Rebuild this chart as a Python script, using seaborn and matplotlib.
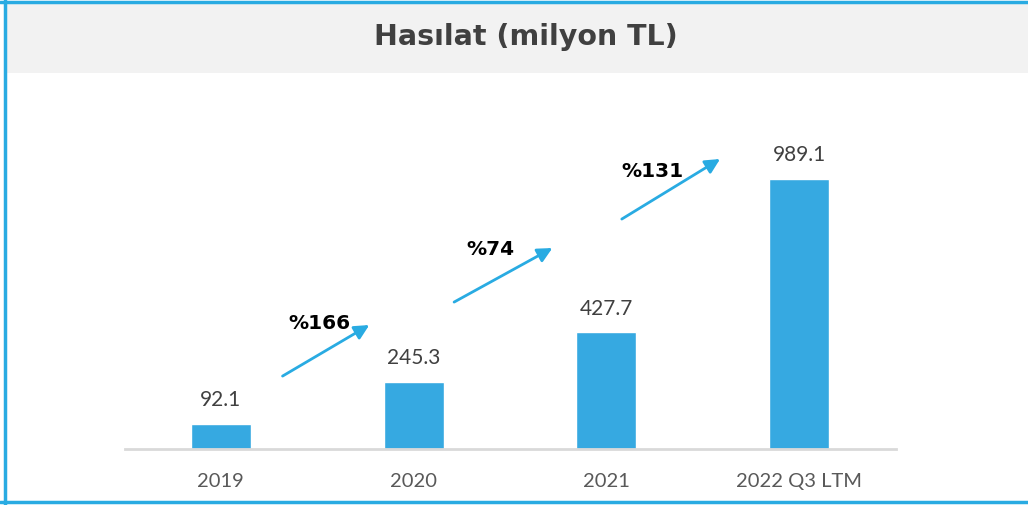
import matplotlib.pyplot as plt
import seaborn as sns
import pandas as pd
from matplotlib.patches import Rectangle
from matplotlib.lines import Line2D

years = ['2019', '2020', '2021', '2022 Q3 LTM']
revenue = [92.1, 245.3, 427.7, 989.1]
growth = ['%166', '%74', '%131']

df = pd.DataFrame({'year': years, 'revenue': revenue})

# arrow geometry (data units)
arrow_start = [(0.32, 267), (1.21, 538), (2.08, 842)]
arrow_end = [(0.77, 454), (1.72, 736), (2.59, 1062)]
label_pos = [(0.51, 461), (1.40, 729), (2.24, 1018)]

sns.set_style('white')
plt.rcParams['font.family'] = ['Lato', 'DejaVu Sans']

fig = plt.figure(figsize=(10.28, 5.05), dpi=100)

# title band + frame
fig.patches.append(Rectangle((7 / 1028, 1 - 73 / 505), 1, 70 / 505, transform=fig.transFigure,
                             facecolor='#F2F2F2', edgecolor='none', zorder=0))
blue = '#29ABE2'
fig.lines.append(Line2D([5 / 1028, 5 / 1028], [0, 1], transform=fig.transFigure, color=blue, lw=2.5))
fig.lines.append(Line2D([0, 1], [1 - 2 / 505, 1 - 2 / 505], transform=fig.transFigure, color=blue, lw=2.5))
fig.lines.append(Line2D([0, 1], [3 / 505, 3 / 505], transform=fig.transFigure, color=blue, lw=2.5))
fig.text(0.512, 1 - 37 / 505, 'Hasılat (milyon TL)', ha='center', va='center',
         fontsize=20.5, fontweight='bold', color='#404040', family=['DejaVu Sans'])

ax = fig.add_axes([124.5 / 1028, 56 / 505, 771 / 1028, 349 / 505])
sns.barplot(data=df, x='year', y='revenue', color='#36A9E1', width=0.31, saturation=1, ax=ax)
ax.set_xlim(-0.5, 3.5)
ax.set_ylim(0, 1278)
ax.set_xlabel('')
ax.set_ylabel('')
ax.set_yticks([])
for s in ['top', 'right', 'left']:
    ax.spines[s].set_visible(False)
ax.spines['bottom'].set_color('#D9D9D9')
ax.spines['bottom'].set_linewidth(2)
ax.tick_params(axis='x', length=0, pad=17, labelsize=14.5, labelcolor='#595959')

for i, v in enumerate(revenue):
    ax.text(i, v + 50, f'{v:.1f}', ha='center', va='bottom', fontsize=15, color='#404040')

# growth arrows between bars
for g, p0, p1, pt in zip(growth, arrow_start, arrow_end, label_pos):
    ax.annotate('', xy=p1, xytext=p0,
                arrowprops=dict(arrowstyle='-|>', color=blue, lw=2, mutation_scale=22,
                                shrinkA=0, shrinkB=0))
    ax.text(pt[0], pt[1], g, ha='center', va='center',
            fontsize=14.5, fontweight='bold', color='black', family=['DejaVu Sans'])

fig.savefig('out.png', dpi=100)
